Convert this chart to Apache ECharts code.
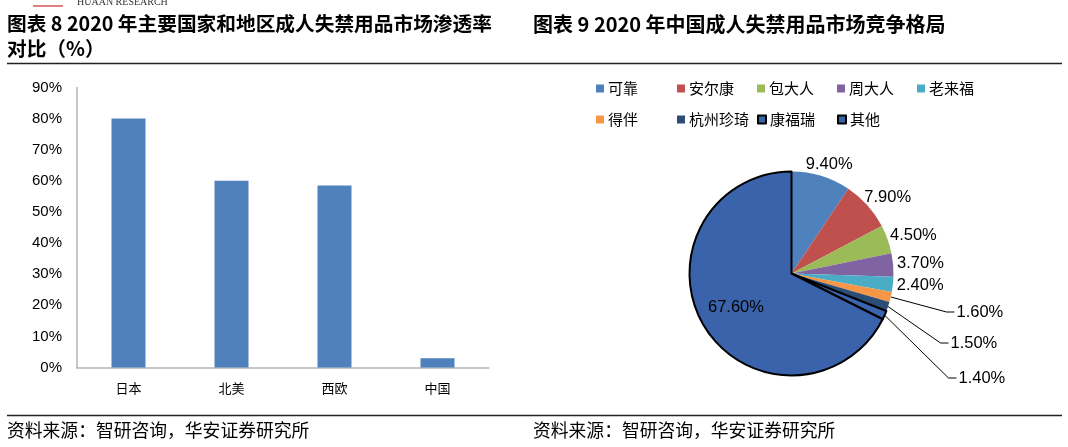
<!DOCTYPE html>
<html><head><meta charset="utf-8">
<script src="https://cdn.jsdelivr.net/npm/echarts@6/dist/echarts.min.js"></script>
<style>html,body{margin:0;padding:0;background:#fff}#c{width:1068px;height:447px}</style>
</head><body><div id="c"></div>
<script>
// ---- data ----
const barCategories = ['日本', '北美', '西欧', '中国'];
const barValues = [80, 60, 58.5, 3];
const yTickMax = 90;
const yTickStep = 10;

const pieNames = ['可靠', '安尔康', '包大人', '周大人', '老来福', '得伴', '杭州珍琦', '康福瑞', '其他'];
const pieValues = [9.4, 7.9, 4.5, 3.7, 2.4, 1.6, 1.5, 1.4, 67.6];
const pieColors = ['#4F81BD', '#C0504D', '#9BBB59', '#8064A2', '#4BACC6', '#F79646', '#2C4D75', '#3A64AD', '#3A63AB'];

const leftTitle1 = '图表 8 2020 年主要国家和地区成人失禁用品市场渗透率';
const leftTitle2 = '对比（%）';
const rightTitle = '图表 9 2020 年中国成人失禁用品市场竞争格局';
const sourceText = '资料来源：智研咨询，华安证券研究所';

// ---- layout ----
const CX = 791.5, CY = 273.5, R = 102;
const CJK = '"Noto Sans CJK SC", sans-serif';
const LAT = '"Liberation Sans", Arial, sans-serif';
// leader-line elbow offsets (relative to pie centre) for the small slices' labels
const leaderElbow = {5: [155, 38.5], 6: [149, 69.5], 7: [157, 104.5]};
const leaderTail = 8;

const chart = echarts.init(document.getElementById('c'), null, {renderer: 'canvas'});

const cum = [];
(function(){ let s = 0; const tot = pieValues.reduce((a,b)=>a+b,0); pieValues.forEach(v=>{ cum.push((s + v/2)/tot); s += v; }); })();

const pieData = pieNames.map((n, i) => {
  const d = {name: n, value: pieValues[i], itemStyle: {color: pieColors[i]}};
  if (i >= 7) { d.itemStyle.borderColor = '#000'; d.itemStyle.borderWidth = 2; }
  if (leaderElbow[i]) {
    d.labelLine = {show: true, length: 40, length2: 8, lineStyle: {color: '#000', width: 1}};
  }
  if (i === 8) d.label = {position: 'inside'};
  return d;
});

const legendPos = [[596, 81], [677, 81], [757, 81], [837, 81], [917, 81], [596, 112], [677, 112], [757, 112], [837, 112]];
const legends = pieNames.map((n, i) => ({
  data: [n], left: legendPos[i][0], top: legendPos[i][1], padding: 0,
  icon: 'rect', itemWidth: 8, itemHeight: 8, itemGap: 0,
  textStyle: {fontFamily: CJK, fontSize: 15, color: '#000', padding: [0,0,0,-1]},
  selectedMode: false
}));

const option = {
  animation: false,
  legend: legends,
  grid: {left: 77, top: 87.5, width: 412, height: 280},
  xAxis: {
    type: 'category', data: barCategories,
    axisLine: {lineStyle: {color: '#B4B4B4', width: 1.5}},
    axisTick: {show: false},
    axisLabel: {fontFamily: CJK, fontSize: 13, color: '#000', margin: 14}
  },
  yAxis: {
    type: 'value', min: 0, max: yTickMax, interval: yTickStep,
    axisLine: {show: true, lineStyle: {color: '#B4B4B4', width: 1.5}},
    axisTick: {show: false},
    splitLine: {show: false},
    axisLabel: {fontFamily: LAT, fontSize: 15, color: '#000', margin: 15, formatter: '{value}%'}
  },
  series: [
    {type: 'bar', data: barValues, barWidth: '33%', itemStyle: {color: '#4F81BD'}},
    {
      type: 'pie', center: [CX, CY], radius: R, startAngle: 90, clockwise: true,
      avoidLabelOverlap: false,
      data: pieData,
      label: {
        show: true, position: 'outside', fontFamily: LAT, fontSize: 16.5, color: '#000',
        distanceToLabelLine: 2,
        formatter: p => p.value.toFixed(2) + '%'
      },
      labelLine: {show: false, length: 5, length2: 0},
      labelLayout: function (p) {
        const i = p.dataIndex;
        const th = cum[i] * Math.PI * 2;
        const ux = Math.sin(th), uy = -Math.cos(th);
        if (i <= 4) {
          const w = p.labelRect.width, h = p.labelRect.height;
          return {x: CX + ux * (R + 4) + ux * w / 2, y: CY + uy * (R + 4) + uy * h / 2, align: 'center', verticalAlign: 'middle'};
        }
        if (i === 8) {
          return {x: CX + ux * R * 0.64, y: CY + uy * R * 0.64, align: 'center', verticalAlign: 'middle'};
        }
        const e = leaderElbow[i];
        const sx = CX + ux * R, sy = CY + uy * R;
        const ex = CX + e[0], ey = CY + e[1];
        return {
          x: ex + leaderTail + 2, y: ey, align: 'left', verticalAlign: 'middle',
          labelLinePoints: [[sx, sy], [ex, ey], [ex + leaderTail, ey]]
        };
      }
    }
  ],
  graphic: [
    {type: 'line', shape: {x1: 33, y1: 6, x2: 63, y2: 6}, style: {stroke: '#C00000', lineWidth: 1}},
    {type: 'text', left: 77, top: -3, style: {text: 'HUAAN RESEARCH', font: '10px "Liberation Serif", serif', fill: '#333'}},
    {type: 'text', left: 7, top: 14, style: {text: leftTitle1, font: 'bold 19.7px ' + CJK, fill: '#000'}},
    {type: 'text', left: 7, top: 39, style: {text: leftTitle2, font: 'bold 19.7px ' + CJK, fill: '#000'}},
    {type: 'text', left: 533, top: 14, style: {text: rightTitle, font: 'bold 20px ' + CJK, fill: '#000'}},
    {type: 'line', shape: {x1: 7, y1: 63.5, x2: 1062, y2: 63.5}, style: {stroke: '#222', lineWidth: 1.5}},
    {type: 'line', shape: {x1: 7, y1: 415.5, x2: 1062, y2: 415.5}, style: {stroke: '#222', lineWidth: 1.5}},
    {type: 'text', left: 7, top: 421, style: {text: sourceText, font: '17.8px ' + CJK, fill: '#000'}},
    {type: 'text', left: 533, top: 421, style: {text: sourceText, font: '17.8px ' + CJK, fill: '#000'}}
  ]
};
chart.setOption(option);
</script></body></html>
